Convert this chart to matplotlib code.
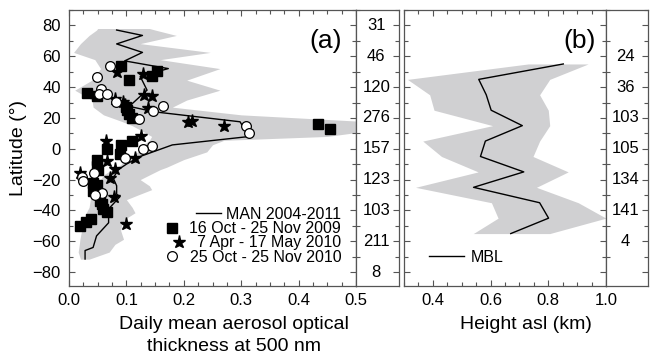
import matplotlib
matplotlib.use("Agg")
import matplotlib.pyplot as plt
from matplotlib.ticker import MultipleLocator
import matplotlib.transforms as mtransforms

plt.rcParams['font.family'] = ['Liberation Sans', 'DejaVu Sans']

# ---------------- Panel (a) data ----------------
man_lat = [77, 73.5, 68, 62.5, 57, 52, 47, 42.5, 38, 35, 27.5, 24, 17.5, 12.5, 8, 2.5,
           -5, -10, -13.5, -19, -24, -29.5, -31, -39, -48, -56.5, -64, -66, -71.5]
man_aot = [0.083, 0.128, 0.083, 0.128, 0.097, 0.173, 0.124, 0.130, 0.136, 0.127, 0.105, 0.148,
           0.298, 0.306, 0.315, 0.180,
           0.124, 0.100, 0.086, 0.077, 0.083, 0.083, 0.089, 0.069, 0.069, 0.048, 0.042, 0.028, 0.028]

band_lat = [78, 77, 73.5, 68.2, 62.5, 57.8, 52, 44.5, 38, 31.6, 27, 22, 18, 15, 11, 8, 5.5, 2.6,
            -2, -7, -12, -13.5, -17, -20, -24, -26.5, -30, -33, -38, -41.5, -45, -49, -53,
            -58.7, -62, -67, -71.6]
band_lo = [0.05, 0.048, 0.035, 0.02, 0.008, 0.045, 0.055, 0.04, 0.01, 0.04, 0.042, 0.06, 0.09,
           0.11, 0.13, 0.144, 0.14, 0.13,
           0.12, 0.10, 0.085, 0.075, 0.06, 0.055, 0.05, 0.045, 0.04, 0.037, 0.035, 0.03, 0.028,
           0.025, 0.022, 0.019, 0.018, 0.016, 0.02]
band_hi = [0.14, 0.15, 0.187, 0.124, 0.246, 0.159, 0.263, 0.205, 0.263, 0.205, 0.18, 0.30, 0.50,
           0.51, 0.51, 0.45, 0.27, 0.25,
           0.24, 0.20, 0.17, 0.159, 0.14, 0.124, 0.14, 0.144, 0.12, 0.10, 0.11, 0.115, 0.10,
           0.092, 0.09, 0.095, 0.08, 0.07, 0.035]

sq_lat = [53.5, 50.5, 47, 44.3, 36.4, 34.5, 27, 25, 22.5, 19.8, 16, 12.5, 5, 2.5, 0, -3.2, -7.1,
          -11.4, -14, -22.1, -23.2, -27.5, -34, -36.1, -38.9, -41.1, -45.4, -47.5, -50.1]
sq_aot = [0.090, 0.153, 0.145, 0.105, 0.031, 0.049, 0.100, 0.101, 0.104, 0.110, 0.434, 0.454,
          0.109, 0.091, 0.066, 0.088, 0.049, 0.049, 0.051, 0.042, 0.048, 0.042, 0.054, 0.057,
          0.060, 0.066, 0.039, 0.029, 0.020]

st_lat = [50, 48.5, 34.8, 34.5, 32.6, 30.3, 28.5, 26.2, 17.6, 17.8, 15, 8.2, 5.0, -6, -8.2,
          -12.9, -15.7, -18.9, -26, -31.4, -49]
st_aot = [0.083, 0.129, 0.130, 0.144, 0.081, 0.094, 0.098, 0.138, 0.207, 0.214, 0.270, 0.125,
          0.065, 0.115, 0.066, 0.080, 0.020, 0.071, 0.045, 0.078, 0.099]

ci_lat = [54.0, 46.3, 38.6, 35.3, 35.6, 30.6, 28.0, 24.5, 19.6, 14.8, 10.5, 1.5, -0.3, -6,
          -15.7, -18.5, -21, -28.6, -29.7]
ci_aot = [0.072, 0.049, 0.055, 0.053, 0.067, 0.082, 0.164, 0.147, 0.122, 0.308, 0.314, 0.145,
          0.129, 0.098, 0.044, 0.022, 0.025, 0.058, 0.045]

days_a_lat = [80, 60, 40, 20, 0, -20, -40, -60, -80]
days_a = ["31", "46", "120", "276", "157", "123", "103", "211", "8"]

# ---------------- Panel (b) data ----------------
mbl_lat = [55, 45, 35, 25, 15, 5, -5, -15, -25, -35, -45, -55]
mbl_h = [0.852, 0.559, 0.585, 0.602, 0.710, 0.582, 0.565, 0.715, 0.541, 0.770, 0.801, 0.670]
mbl_lo = [0.73, 0.312, 0.389, 0.404, 0.607, 0.365, 0.430, 0.557, 0.340, 0.603, 0.626, 0.540]
mbl_hi = [0.938, 0.805, 0.770, 0.800, 0.805, 0.770, 0.747, 0.869, 0.759, 0.904, 1.000, 0.805]

days_b_lat = [60, 40, 20, 0, -20, -40, -60]
days_b = ["24", "36", "103", "105", "134", "141", "4"]

GRAY = '#d0d0d2'
SPINE = '#555555'

W, H = 650, 360
fig = plt.figure(figsize=(6.5, 3.6), dpi=100)
y0, y1 = 10, 286
bot = (H - y1) / H
hgt = (y1 - y0) / H
axA = fig.add_axes([69 / W, bot, 287 / W, hgt])
axAs = fig.add_axes([356 / W, bot, 43 / W, hgt])
axB = fig.add_axes([404 / W, bot, 202 / W, hgt])
axBs = fig.add_axes([606 / W, bot, 42 / W, hgt])

YL = (-89, 90)

def style(ax):
    for s in ax.spines.values():
        s.set_color(SPINE)
        s.set_linewidth(0.9)
    ax.tick_params(which='both', direction='in', top=True, right=True, color=SPINE,
                   labelsize=12, width=0.8)
    ax.tick_params(which='major', length=4)
    ax.tick_params(which='minor', length=3)
    ax.set_ylim(*YL)
    ax.yaxis.set_major_locator(MultipleLocator(20))
    ax.yaxis.set_minor_locator(MultipleLocator(10))

# ----- Panel (a) -----
style(axA)
axA.fill_betweenx(band_lat, band_lo, band_hi, color=GRAY, lw=0, zorder=1)
axA.plot(man_aot, man_lat, color='black', lw=1.0, zorder=2, label='MAN 2004-2011')
axA.plot(sq_aot, sq_lat, 's', ms=6.5, color='black', ls='none', zorder=3,
         label='16 Oct - 25 Nov 2009')
axA.plot(st_aot, st_lat, '*', ms=9.5, color='black', ls='none', zorder=3,
         label='7 Apr - 17 May 2010')
axA.plot(ci_aot, ci_lat, 'o', ms=7, mfc='white', mec='black', mew=0.9, ls='none', zorder=4,
         label='25 Oct - 25 Nov 2010')
axA.set_xlim(0, 0.5)
axA.xaxis.set_minor_locator(MultipleLocator(0.025))
axA.set_xticks([0, 0.1, 0.2, 0.3, 0.4, 0.5])
axA.set_xticklabels(["0.0", "0.1", "0.2", "0.3", "0.4", "0.5"])
axA.set_yticks([80, 60, 40, 20, 0, -20, -40, -60, -80])
axA.tick_params(axis='y', pad=6)
axA.tick_params(axis='x', pad=5)
axA.set_ylabel('Latitude (°)', fontsize=14, labelpad=4)
axA.text(0.95, 0.93, '(a)', transform=axA.transAxes, ha='right', va='top', fontsize=19)

leg = axA.legend(loc='lower right', bbox_to_anchor=(0.965, 0.06), frameon=False, fontsize=11.5,
                 handlelength=1.6, handletextpad=0.3, labelspacing=-0.05, borderpad=0,
                 borderaxespad=0.3, numpoints=1)
for col in leg._legend_handle_box.get_children():
    col.align = 'right'

# strip a
style(axAs)
axAs.set_xticks([])
axAs.tick_params(axis='y', left=False, right=True, labelleft=False, labelright=False)
axAs.set_yticks(days_a_lat)
blend = mtransforms.blended_transform_factory(axAs.transAxes, axAs.transData)
for la, t in zip(days_a_lat, days_a):
    axAs.text(0.47, la, t, transform=blend, ha='center', va='center', fontsize=12)

# ----- Panel (b) -----
style(axB)
axB.fill_betweenx(mbl_lat, mbl_lo, mbl_hi, color=GRAY, lw=0, zorder=1)
axB.plot(mbl_h, mbl_lat, color='black', lw=1.0, zorder=2, label='MBL')
axB.set_xlim(0.3, 1.0)
axB.set_xticks([0.4, 0.6, 0.8, 1.0])
axB.set_xticklabels(["0.4", "0.6", "0.8", "1.0"])
axB.xaxis.set_minor_locator(MultipleLocator(0.05))
axB.set_yticks([80, 60, 40, 20, 0, -20, -40, -60, -80])
axB.tick_params(axis='y', labelleft=False)
axB.tick_params(axis='x', pad=5)
axB.text(0.95, 0.93, '(b)', transform=axB.transAxes, ha='right', va='top', fontsize=19)
axB.legend(loc='lower left', bbox_to_anchor=(0.1, 0.06), frameon=False, fontsize=11.5,
           handlelength=2.2, handletextpad=0.4, borderpad=0, borderaxespad=0.3)

style(axBs)
axBs.set_xticks([])
axBs.tick_params(axis='y', left=False, right=True, labelleft=False, labelright=False)
axBs.set_yticks(days_a_lat)
blendb = mtransforms.blended_transform_factory(axBs.transAxes, axBs.transData)
for la, t in zip(days_b_lat, days_b):
    axBs.text(0.47, la, t, transform=blendb, ha='center', va='center', fontsize=12)

fig.text(234 / W, 1 - 316 / H, 'Daily mean aerosol optical\nthickness at 500 nm', ha='center',
         va='top', fontsize=14, linespacing=1.35)
fig.text(526 / W, 1 - 316 / H, 'Height asl (km)', ha='center', va='top', fontsize=14)

fig.savefig('out.png', dpi=100)
